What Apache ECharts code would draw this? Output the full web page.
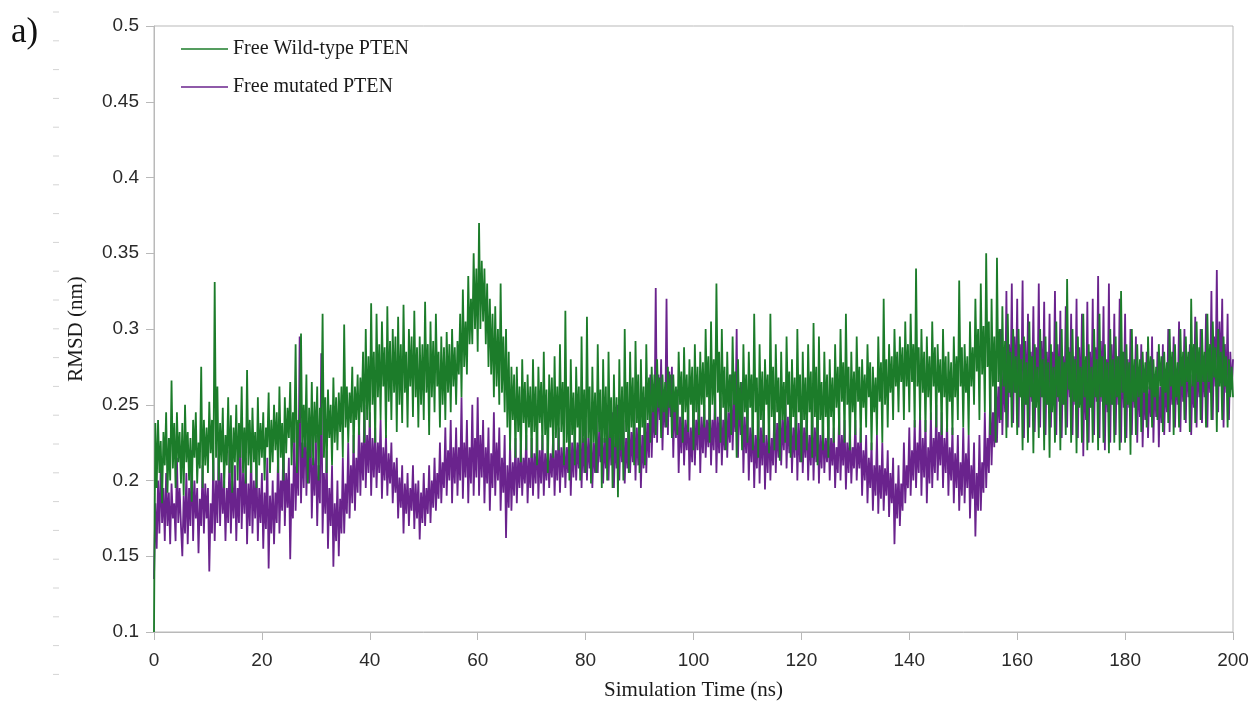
<!DOCTYPE html>
<html>
<head>
<meta charset="utf-8">
<title>RMSD of free PTEN</title>
<script src="https://cdn.jsdelivr.net/npm/echarts@6/dist/echarts.min.js"></script>
<style>
  html, body { margin: 0; padding: 0; background: #ffffff; overflow: hidden; }
  #chart { width: 1254px; height: 705px; }
</style>
</head>
<body>
<div id="chart"></div>
<script>
// Trajectory frames every 0.25 ns, 0 to 200 ns
const TIME_STEP_NS = 0.25;

// Backbone RMSD (nm) of free wild-type PTEN, one row per 5 ns
const wildTypeRmsd = [
  0.100, 0.238, 0.195, 0.240, 0.205, 0.226, 0.185, 0.232, 0.210, 0.245, 0.192, 0.228, 0.200, 0.266, 0.208, 0.238, 0.195, 0.245, 0.212, 0.232,
  0.198, 0.238, 0.190, 0.250, 0.212, 0.232, 0.200, 0.228, 0.186, 0.240, 0.215, 0.245, 0.198, 0.225, 0.208, 0.275, 0.195, 0.240, 0.210, 0.235,
  0.205, 0.252, 0.218, 0.240, 0.200, 0.331, 0.215, 0.262, 0.200, 0.238, 0.212, 0.248, 0.195, 0.230, 0.210, 0.255, 0.205, 0.243, 0.192, 0.235,
  0.212, 0.250, 0.200, 0.238, 0.215, 0.262, 0.205, 0.235, 0.198, 0.273, 0.210, 0.240, 0.205, 0.248, 0.212, 0.232, 0.195, 0.255, 0.210, 0.238,
  0.215, 0.245, 0.200, 0.235, 0.222, 0.258, 0.205, 0.240, 0.212, 0.250, 0.220, 0.245, 0.205, 0.262, 0.215, 0.238, 0.200, 0.255, 0.218, 0.248,
  0.228, 0.265, 0.210, 0.245, 0.225, 0.290, 0.205, 0.240, 0.238, 0.297, 0.215, 0.250, 0.222, 0.270, 0.198, 0.248, 0.215, 0.265, 0.210, 0.252,
  0.225, 0.262, 0.200, 0.248, 0.230, 0.310, 0.215, 0.255, 0.205, 0.260, 0.228, 0.250, 0.210, 0.268, 0.225, 0.255, 0.220, 0.258, 0.232, 0.262,
  0.215, 0.303, 0.235, 0.262, 0.225, 0.258, 0.238, 0.275, 0.218, 0.262, 0.240, 0.270, 0.230, 0.268, 0.245, 0.285, 0.225, 0.300, 0.240, 0.282,
  0.235, 0.317, 0.250, 0.285, 0.225, 0.310, 0.255, 0.290, 0.240, 0.305, 0.262, 0.288, 0.228, 0.315, 0.252, 0.292, 0.240, 0.300, 0.258, 0.295,
  0.232, 0.308, 0.250, 0.290, 0.238, 0.316, 0.258, 0.285, 0.235, 0.300, 0.262, 0.295, 0.242, 0.312, 0.255, 0.288, 0.235, 0.295, 0.250, 0.290,
  0.240, 0.318, 0.258, 0.290, 0.230, 0.305, 0.255, 0.292, 0.245, 0.310, 0.262, 0.285, 0.235, 0.295, 0.250, 0.288, 0.240, 0.298, 0.258, 0.290,
  0.245, 0.300, 0.262, 0.288, 0.250, 0.292, 0.270, 0.310, 0.255, 0.326, 0.275, 0.305, 0.270, 0.335, 0.290, 0.320, 0.290, 0.350, 0.300, 0.340,
  0.285, 0.370, 0.300, 0.345, 0.305, 0.340, 0.290, 0.330, 0.275, 0.320, 0.270, 0.310, 0.255, 0.315, 0.262, 0.300, 0.250, 0.330, 0.258, 0.295,
  0.245, 0.300, 0.235, 0.285, 0.220, 0.275, 0.240, 0.270, 0.215, 0.275, 0.232, 0.262, 0.212, 0.280, 0.238, 0.265, 0.220, 0.270, 0.235, 0.262,
  0.215, 0.280, 0.232, 0.262, 0.210, 0.275, 0.238, 0.265, 0.220, 0.285, 0.230, 0.260, 0.205, 0.270, 0.235, 0.268, 0.215, 0.282, 0.228, 0.262,
  0.220, 0.290, 0.232, 0.265, 0.210, 0.312, 0.225, 0.262, 0.200, 0.280, 0.230, 0.258, 0.210, 0.275, 0.235, 0.262, 0.200, 0.295, 0.225, 0.260,
  0.205, 0.308, 0.228, 0.262, 0.198, 0.275, 0.225, 0.258, 0.205, 0.290, 0.232, 0.260, 0.195, 0.280, 0.225, 0.262, 0.200, 0.285, 0.228, 0.255,
  0.195, 0.270, 0.222, 0.255, 0.189, 0.280, 0.220, 0.262, 0.200, 0.300, 0.232, 0.265, 0.205, 0.285, 0.235, 0.268, 0.210, 0.292, 0.238, 0.270,
  0.205, 0.280, 0.235, 0.262, 0.210, 0.290, 0.240, 0.268, 0.225, 0.275, 0.245, 0.270, 0.230, 0.280, 0.248, 0.268, 0.228, 0.270, 0.245, 0.265,
  0.235, 0.275, 0.248, 0.270, 0.228, 0.270, 0.245, 0.262, 0.230, 0.285, 0.250, 0.272, 0.225, 0.288, 0.245, 0.270, 0.232, 0.280, 0.250, 0.275,
  0.220, 0.290, 0.245, 0.275, 0.230, 0.285, 0.250, 0.278, 0.235, 0.300, 0.255, 0.282, 0.225, 0.305, 0.250, 0.280, 0.240, 0.330, 0.258, 0.285,
  0.225, 0.300, 0.248, 0.275, 0.220, 0.285, 0.245, 0.270, 0.230, 0.295, 0.250, 0.272, 0.215, 0.280, 0.240, 0.265, 0.220, 0.290, 0.245, 0.270,
  0.225, 0.285, 0.248, 0.270, 0.220, 0.310, 0.245, 0.268, 0.215, 0.290, 0.240, 0.272, 0.225, 0.280, 0.250, 0.270, 0.218, 0.310, 0.242, 0.275,
  0.220, 0.290, 0.245, 0.268, 0.213, 0.285, 0.240, 0.265, 0.225, 0.295, 0.250, 0.272, 0.215, 0.280, 0.242, 0.268, 0.220, 0.300, 0.245, 0.270,
  0.212, 0.285, 0.240, 0.268, 0.220, 0.290, 0.245, 0.272, 0.215, 0.304, 0.242, 0.275, 0.210, 0.295, 0.240, 0.265, 0.220, 0.285, 0.242, 0.270,
  0.215, 0.280, 0.242, 0.268, 0.225, 0.290, 0.248, 0.275, 0.230, 0.300, 0.252, 0.278, 0.225, 0.310, 0.250, 0.275, 0.220, 0.285, 0.245, 0.272,
  0.230, 0.295, 0.252, 0.275, 0.225, 0.280, 0.248, 0.270, 0.235, 0.290, 0.255, 0.278, 0.220, 0.275, 0.245, 0.268, 0.230, 0.295, 0.252, 0.278,
  0.225, 0.320, 0.250, 0.280, 0.235, 0.290, 0.258, 0.282, 0.240, 0.300, 0.262, 0.285, 0.245, 0.295, 0.265, 0.288, 0.240, 0.305, 0.262, 0.290,
  0.245, 0.310, 0.265, 0.290, 0.235, 0.340, 0.262, 0.288, 0.240, 0.300, 0.258, 0.285, 0.232, 0.295, 0.255, 0.282, 0.240, 0.305, 0.262, 0.288,
  0.235, 0.290, 0.258, 0.280, 0.230, 0.300, 0.255, 0.282, 0.232, 0.285, 0.252, 0.278, 0.230, 0.295, 0.255, 0.282, 0.240, 0.332, 0.262, 0.288,
  0.235, 0.290, 0.258, 0.282, 0.230, 0.305, 0.262, 0.288, 0.250, 0.320, 0.272, 0.300, 0.240, 0.330, 0.270, 0.302, 0.245, 0.350, 0.275, 0.305,
  0.230, 0.320, 0.262, 0.295, 0.225, 0.347, 0.265, 0.300, 0.240, 0.315, 0.262, 0.292, 0.228, 0.310, 0.258, 0.285, 0.235, 0.300, 0.258, 0.282,
  0.230, 0.300, 0.255, 0.280, 0.220, 0.295, 0.250, 0.278, 0.225, 0.305, 0.255, 0.282, 0.218, 0.290, 0.248, 0.275, 0.228, 0.300, 0.255, 0.280,
  0.220, 0.295, 0.250, 0.278, 0.215, 0.290, 0.245, 0.275, 0.225, 0.305, 0.255, 0.282, 0.220, 0.300, 0.250, 0.278, 0.230, 0.333, 0.260, 0.285,
  0.225, 0.300, 0.252, 0.280, 0.218, 0.295, 0.248, 0.275, 0.225, 0.310, 0.255, 0.282, 0.220, 0.290, 0.248, 0.275, 0.225, 0.300, 0.255, 0.280,
  0.220, 0.310, 0.255, 0.282, 0.225, 0.290, 0.250, 0.278, 0.218, 0.300, 0.250, 0.280, 0.225, 0.295, 0.255, 0.282, 0.220, 0.325, 0.258, 0.285,
  0.225, 0.290, 0.250, 0.278, 0.217, 0.300, 0.252, 0.280, 0.230, 0.290, 0.255, 0.280, 0.232, 0.285, 0.258, 0.278, 0.235, 0.295, 0.260, 0.282,
  0.235, 0.280, 0.255, 0.275, 0.240, 0.290, 0.262, 0.282, 0.232, 0.285, 0.258, 0.278, 0.238, 0.300, 0.262, 0.285, 0.230, 0.290, 0.255, 0.278,
  0.235, 0.300, 0.262, 0.285, 0.240, 0.295, 0.265, 0.285, 0.232, 0.320, 0.262, 0.290, 0.238, 0.305, 0.265, 0.288, 0.240, 0.300, 0.265, 0.285,
  0.235, 0.310, 0.265, 0.290, 0.240, 0.305, 0.268, 0.288, 0.232, 0.300, 0.262, 0.285, 0.240, 0.295, 0.262, 0.282, 0.235, 0.280, 0.255, 0.275,
  0.255
];

// Backbone RMSD (nm) of free mutated PTEN, one row per 5 ns
const mutatedRmsd = [
  0.135, 0.185, 0.155, 0.200, 0.165, 0.210, 0.172, 0.195, 0.160, 0.205, 0.170, 0.192, 0.158, 0.198, 0.175, 0.185, 0.160, 0.215, 0.172, 0.195,
  0.170, 0.150, 0.190, 0.165, 0.205, 0.158, 0.195, 0.170, 0.220, 0.160, 0.200, 0.175, 0.195, 0.152, 0.188, 0.170, 0.210, 0.165, 0.198, 0.175,
  0.195, 0.140, 0.185, 0.165, 0.215, 0.160, 0.200, 0.172, 0.225, 0.170, 0.205, 0.178, 0.200, 0.160, 0.195, 0.172, 0.220, 0.165, 0.200, 0.175,
  0.210, 0.160, 0.195, 0.172, 0.230, 0.168, 0.205, 0.178, 0.215, 0.158, 0.198, 0.170, 0.220, 0.165, 0.200, 0.175, 0.210, 0.160, 0.195, 0.172,
  0.205, 0.155, 0.192, 0.168, 0.215, 0.142, 0.190, 0.165, 0.200, 0.158, 0.192, 0.172, 0.220, 0.165, 0.200, 0.180, 0.230, 0.170, 0.205, 0.182,
  0.215, 0.148, 0.198, 0.175, 0.235, 0.180, 0.215, 0.190, 0.295, 0.185, 0.225, 0.195, 0.245, 0.190, 0.225, 0.198, 0.240, 0.175, 0.215, 0.190,
  0.230, 0.170, 0.210, 0.185, 0.284, 0.165, 0.205, 0.178, 0.220, 0.155, 0.195, 0.170, 0.210, 0.143, 0.185, 0.160, 0.200, 0.150, 0.188, 0.165,
  0.215, 0.165, 0.198, 0.178, 0.225, 0.175, 0.210, 0.185, 0.230, 0.180, 0.215, 0.192, 0.240, 0.190, 0.225, 0.200, 0.250, 0.195, 0.230, 0.205,
  0.245, 0.190, 0.228, 0.202, 0.235, 0.195, 0.225, 0.205, 0.240, 0.188, 0.222, 0.200, 0.230, 0.190, 0.218, 0.198, 0.225, 0.185, 0.212, 0.192,
  0.215, 0.175, 0.202, 0.182, 0.210, 0.165, 0.198, 0.178, 0.205, 0.170, 0.195, 0.180, 0.210, 0.168, 0.198, 0.175, 0.200, 0.161, 0.192, 0.172,
  0.205, 0.170, 0.195, 0.178, 0.210, 0.172, 0.200, 0.182, 0.215, 0.180, 0.205, 0.188, 0.225, 0.185, 0.212, 0.195, 0.235, 0.190, 0.220, 0.200,
  0.240, 0.185, 0.222, 0.198, 0.235, 0.190, 0.222, 0.200, 0.255, 0.188, 0.225, 0.202, 0.240, 0.185, 0.222, 0.198, 0.250, 0.190, 0.228, 0.202,
  0.255, 0.190, 0.230, 0.202, 0.240, 0.185, 0.222, 0.198, 0.235, 0.180, 0.218, 0.195, 0.245, 0.190, 0.225, 0.200, 0.235, 0.180, 0.215, 0.192,
  0.230, 0.162, 0.210, 0.182, 0.225, 0.180, 0.212, 0.190, 0.228, 0.185, 0.215, 0.195, 0.225, 0.190, 0.215, 0.198, 0.230, 0.185, 0.215, 0.195,
  0.228, 0.190, 0.218, 0.198, 0.235, 0.188, 0.220, 0.198, 0.230, 0.190, 0.218, 0.200, 0.225, 0.195, 0.218, 0.202, 0.232, 0.190, 0.220, 0.200,
  0.235, 0.192, 0.222, 0.202, 0.230, 0.195, 0.222, 0.205, 0.238, 0.190, 0.225, 0.202, 0.235, 0.200, 0.225, 0.208, 0.240, 0.195, 0.228, 0.205,
  0.240, 0.200, 0.228, 0.208, 0.235, 0.195, 0.225, 0.205, 0.245, 0.205, 0.232, 0.212, 0.240, 0.198, 0.228, 0.208, 0.250, 0.200, 0.235, 0.210,
  0.245, 0.195, 0.230, 0.208, 0.250, 0.200, 0.235, 0.212, 0.240, 0.198, 0.228, 0.208, 0.245, 0.205, 0.232, 0.212, 0.250, 0.200, 0.235, 0.210,
  0.245, 0.195, 0.230, 0.208, 0.255, 0.205, 0.238, 0.215, 0.270, 0.215, 0.250, 0.228, 0.327, 0.225, 0.270, 0.240, 0.280, 0.220, 0.258, 0.235,
  0.320, 0.230, 0.272, 0.242, 0.275, 0.215, 0.255, 0.228, 0.260, 0.205, 0.242, 0.218, 0.255, 0.210, 0.240, 0.220, 0.250, 0.200, 0.235, 0.212,
  0.255, 0.210, 0.240, 0.220, 0.260, 0.205, 0.242, 0.218, 0.250, 0.215, 0.240, 0.222, 0.255, 0.210, 0.240, 0.220, 0.260, 0.205, 0.242, 0.218,
  0.255, 0.210, 0.240, 0.220, 0.260, 0.215, 0.245, 0.225, 0.270, 0.220, 0.252, 0.232, 0.300, 0.215, 0.260, 0.230, 0.265, 0.205, 0.242, 0.218,
  0.250, 0.200, 0.235, 0.212, 0.245, 0.195, 0.230, 0.208, 0.250, 0.198, 0.235, 0.210, 0.245, 0.194, 0.230, 0.205, 0.240, 0.200, 0.228, 0.210,
  0.250, 0.205, 0.238, 0.215, 0.255, 0.210, 0.240, 0.220, 0.260, 0.208, 0.242, 0.218, 0.250, 0.205, 0.235, 0.215, 0.255, 0.200, 0.238, 0.212,
  0.250, 0.205, 0.235, 0.215, 0.245, 0.200, 0.230, 0.210, 0.250, 0.200, 0.235, 0.212, 0.245, 0.198, 0.230, 0.208, 0.240, 0.205, 0.228, 0.212,
  0.240, 0.200, 0.228, 0.210, 0.235, 0.195, 0.222, 0.205, 0.245, 0.200, 0.230, 0.210, 0.240, 0.194, 0.225, 0.205, 0.235, 0.198, 0.222, 0.208,
  0.240, 0.200, 0.225, 0.208, 0.235, 0.190, 0.220, 0.200, 0.230, 0.185, 0.215, 0.195, 0.225, 0.180, 0.210, 0.190, 0.230, 0.178, 0.210, 0.188,
  0.225, 0.180, 0.208, 0.190, 0.220, 0.176, 0.205, 0.185, 0.215, 0.158, 0.198, 0.175, 0.210, 0.170, 0.198, 0.180, 0.225, 0.185, 0.210, 0.195,
  0.235, 0.190, 0.220, 0.200, 0.240, 0.195, 0.225, 0.205, 0.245, 0.190, 0.228, 0.202, 0.240, 0.185, 0.222, 0.198, 0.245, 0.195, 0.228, 0.205,
  0.250, 0.200, 0.232, 0.210, 0.245, 0.195, 0.228, 0.205, 0.240, 0.190, 0.222, 0.200, 0.235, 0.185, 0.218, 0.195, 0.230, 0.180, 0.212, 0.190,
  0.235, 0.185, 0.218, 0.195, 0.230, 0.175, 0.210, 0.188, 0.225, 0.163, 0.205, 0.180, 0.230, 0.180, 0.212, 0.192, 0.245, 0.195, 0.228, 0.205,
  0.260, 0.210, 0.245, 0.222, 0.280, 0.225, 0.262, 0.238, 0.300, 0.230, 0.275, 0.245, 0.325, 0.235, 0.290, 0.255, 0.330, 0.238, 0.295, 0.258,
  0.320, 0.235, 0.290, 0.255, 0.332, 0.228, 0.292, 0.250, 0.310, 0.235, 0.285, 0.252, 0.315, 0.232, 0.288, 0.255, 0.330, 0.235, 0.292, 0.255,
  0.318, 0.230, 0.285, 0.250, 0.310, 0.235, 0.285, 0.255, 0.325, 0.230, 0.290, 0.252, 0.312, 0.228, 0.282, 0.250, 0.315, 0.235, 0.288, 0.255,
  0.310, 0.230, 0.282, 0.250, 0.320, 0.228, 0.288, 0.250, 0.310, 0.216, 0.275, 0.240, 0.318, 0.225, 0.285, 0.248, 0.320, 0.230, 0.288, 0.252,
  0.335, 0.228, 0.292, 0.252, 0.315, 0.220, 0.280, 0.245, 0.330, 0.225, 0.290, 0.250, 0.310, 0.230, 0.282, 0.250, 0.320, 0.225, 0.285, 0.248,
  0.310, 0.228, 0.280, 0.248, 0.300, 0.230, 0.275, 0.248, 0.295, 0.225, 0.270, 0.242, 0.290, 0.222, 0.265, 0.240, 0.285, 0.228, 0.262, 0.242,
  0.295, 0.225, 0.270, 0.242, 0.285, 0.222, 0.262, 0.238, 0.290, 0.230, 0.268, 0.245, 0.300, 0.232, 0.275, 0.250, 0.295, 0.235, 0.272, 0.250,
  0.305, 0.232, 0.280, 0.252, 0.300, 0.238, 0.280, 0.255, 0.290, 0.230, 0.270, 0.248, 0.308, 0.235, 0.282, 0.255, 0.300, 0.238, 0.280, 0.255,
  0.310, 0.235, 0.285, 0.258, 0.325, 0.240, 0.295, 0.262, 0.339, 0.245, 0.305, 0.268, 0.320, 0.235, 0.290, 0.258, 0.310, 0.240, 0.285, 0.260,
  0.280
];

const seriesNames = ['Free Wild-type PTEN', 'Free mutated PTEN'];
const seriesColors = ['#1c7c2a', '#6a238d'];

const xTicks = { min: 0, max: 200, interval: 20 };
const yTicks = { min: 0.1, max: 0.5, interval: 0.05 };

function pairWithTime(values) {
  return values.map((v, i) => [i * TIME_STEP_NS, v]);
}

const frameGray = '#b9b9b9';
const tickFont = '"Liberation Sans", Arial, sans-serif';
const serifFont = '"Liberation Serif", "Times New Roman", serif';

// faint ruler dashes along the left margin of the page
const marginDashes = [];
for (let k = 0; k < 24; k++) {
  const y = 12 + k * 28.8;
  marginDashes.push({
    type: 'line',
    shape: { x1: 53, y1: y, x2: 59, y2: y },
    style: { stroke: '#d4d4d4', lineWidth: 1 },
    silent: true
  });
}

const chart = echarts.init(document.getElementById('chart'), null, { renderer: 'canvas' });

chart.setOption({
  animation: false,
  backgroundColor: '#ffffff',
  grid: {
    left: 154, right: 21, top: 26, bottom: 73,
    containLabel: false,
    outerBoundsMode: 'none',
    show: true, borderColor: frameGray, borderWidth: 1
  },
  legend: {
    orient: 'vertical',
    left: 176,
    top: 32,
    icon: 'rect',
    itemWidth: 47,
    itemHeight: 1.5,
    itemGap: 14,
    textStyle: { fontFamily: serifFont, fontSize: 20, color: '#1a1a1a', lineHeight: 24 },
    data: seriesNames
  },
  xAxis: {
    type: 'value',
    min: xTicks.min, max: xTicks.max, interval: xTicks.interval,
    name: 'Simulation Time (ns)',
    nameLocation: 'middle',
    nameGap: 48,
    nameTextStyle: { fontFamily: serifFont, fontSize: 21, color: '#1a1a1a' },
    axisLine: { show: true, onZero: false, lineStyle: { color: frameGray, width: 1 } },
    axisTick: { show: true, length: 8, lineStyle: { color: frameGray } },
    axisLabel: { margin: 19, fontFamily: tickFont, fontSize: 19, color: '#2a2a2a' },
    splitLine: { show: false }
  },
  yAxis: {
    type: 'value',
    min: yTicks.min, max: yTicks.max, interval: yTicks.interval,
    name: 'RMSD (nm)',
    nameLocation: 'middle',
    nameGap: 67,
    nameTextStyle: { fontFamily: serifFont, fontSize: 21, color: '#1a1a1a' },
    axisLine: { show: true, lineStyle: { color: frameGray, width: 1 } },
    axisTick: { show: true, length: 8, lineStyle: { color: frameGray } },
    axisLabel: { margin: 15, fontFamily: tickFont, fontSize: 19, color: '#2a2a2a' },
    splitLine: { show: false }
  },
  graphic: [
    {
      type: 'text',
      left: 11, top: 15,
      style: { text: 'a)', font: '35px ' + serifFont, fill: '#111111' },
      silent: true
    },
    { type: 'group', children: marginDashes, silent: true }
  ],
  series: [
    {
      name: seriesNames[1],
      type: 'line',
      data: pairWithTime(mutatedRmsd),
      showSymbol: false,
      sampling: null,
      color: seriesColors[1],
      lineStyle: { width: 1.8, color: seriesColors[1] },
      z: 2
    },
    {
      name: seriesNames[0],
      type: 'line',
      data: pairWithTime(wildTypeRmsd),
      showSymbol: false,
      sampling: null,
      color: seriesColors[0],
      lineStyle: { width: 1.8, color: seriesColors[0] },
      z: 3
    }
  ]
});
</script>
</body>
</html>
